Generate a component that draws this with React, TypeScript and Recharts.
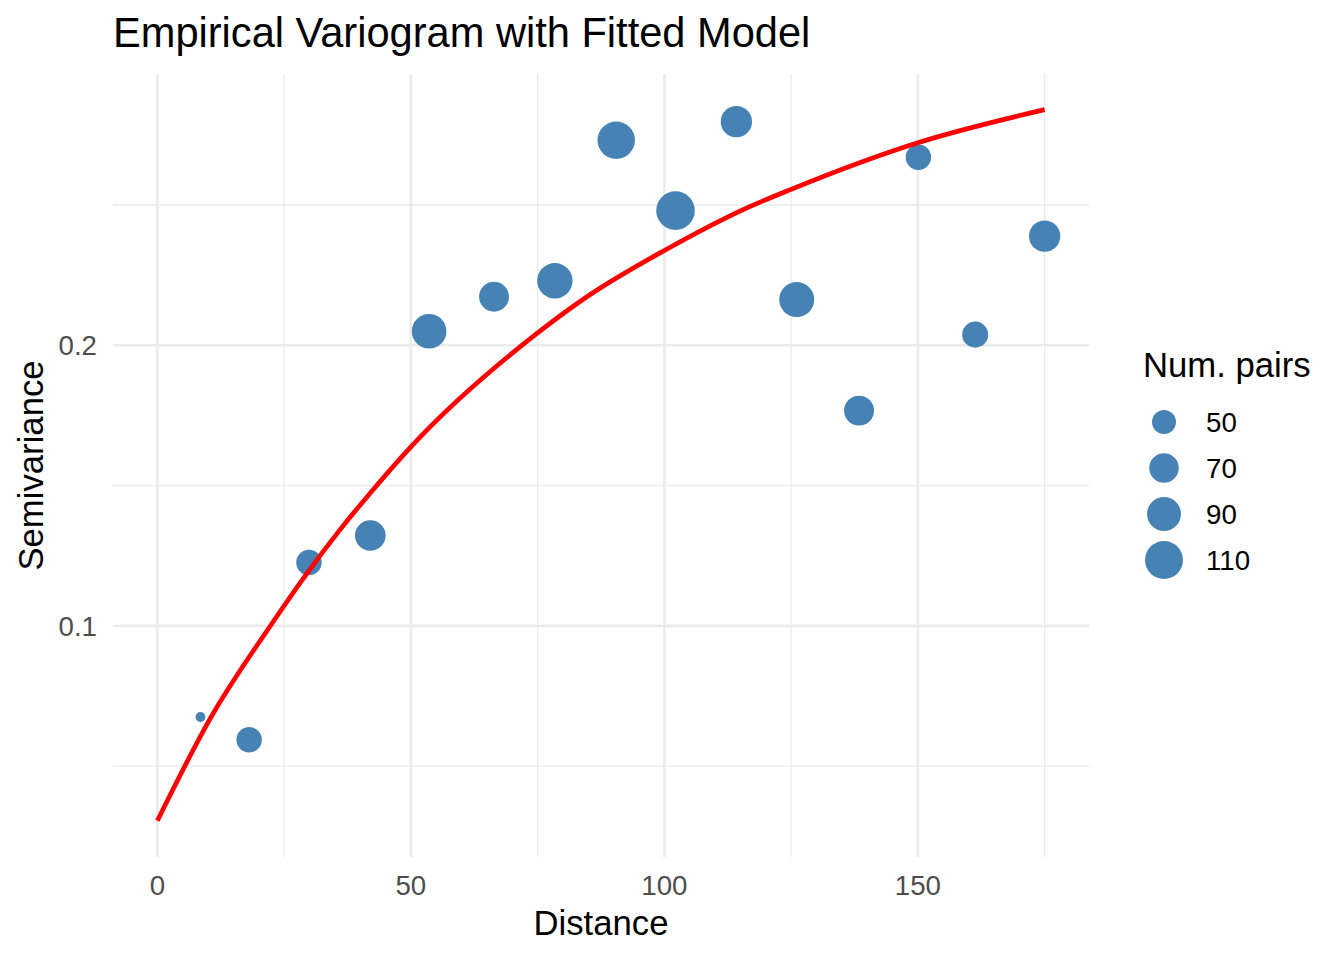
import {
  CartesianGrid,
  ComposedChart,
  Legend,
  Line,
  Scatter,
  XAxis,
  YAxis,
  ZAxis
} from "recharts";

// empirical variogram bins
const binDistance = [8.5, 18.1, 29.9, 42.0, 53.6, 66.4, 78.4, 90.5, 102.2, 114.2, 126.1, 138.4, 150.1, 161.3, 175.0];
const binGamma = [0.0675, 0.0594, 0.1226, 0.1322, 0.205, 0.2173, 0.223, 0.2731, 0.248, 0.2797, 0.2163, 0.1767, 0.267, 0.2038, 0.2389];
const binPairs = [17, 55, 55, 75, 93, 72, 97, 107, 113, 78, 95, 72, 55, 57, 78];

// fitted model
const modelDistance = [0, 10.5, 22.4, 28.9, 36.0, 42.3, 50, 75, 85.3, 100, 116.3, 125, 150, 175];
const modelGamma = [0.0305, 0.0672, 0.1003, 0.1172, 0.1342, 0.148, 0.1638, 0.2044, 0.218, 0.2338, 0.249, 0.2556, 0.2722, 0.284];

const xTicks = [0, 50, 100, 150];
const xMinor = [25, 75, 125, 175];
const yTicks = [0.1, 0.2];
const yMinor = [0.05, 0.15, 0.25];
const legendPairs = [50, 70, 90, 110];

const points = binDistance.map((x, i) => ({ x, y: binGamma[i], n: binPairs[i] }));
const model = modelDistance.map((x, i) => ({ x, y: modelGamma[i] }));

const FONT = "'Liberation Sans', Arial, Helvetica, sans-serif";
const BLUE = "#4682B4";
const GRID = "#EBEBEB";
const Z_DOMAIN: [number, number] = [15, 120];
const Z_RANGE: [number, number] = [54, 1248];

function radiusFor(v: number) {
  const t = (v - Z_DOMAIN[0]) / (Z_DOMAIN[1] - Z_DOMAIN[0]);
  const area = Z_RANGE[0] + (Z_RANGE[1] - Z_RANGE[0]) * t;
  return Math.sqrt(area / Math.PI);
}

function PairsLegend() {
  return (
    <svg width={214} height={250} style={{ display: "block", overflow: "visible", fontFamily: FONT }}>
      <text x={13} y={37} fontSize={34.7} fill="#000">
        Num. pairs
      </text>
      {legendPairs.map((v, i) => {
        const cy = 82 + i * 46;
        return (
          <g key={v}>
            <circle cx={34} cy={cy} r={radiusFor(v)} fill={BLUE} />
            <text x={76} y={cy} dy="0.355em" fontSize={27.7} fill="#000">
              {v}
            </text>
          </g>
        );
      })}
    </svg>
  );
}

function YTitle(props: any) {
  const vb = props?.viewBox;
  const cy = vb && typeof vb.y === "number" ? vb.y + vb.height / 2 : 466;
  return (
    <text
      x={43}
      y={cy}
      transform={`rotate(-90 43 ${cy})`}
      textAnchor="middle"
      fontSize={34.7}
      fill="#000"
      fontFamily={FONT}
    >
      Semivariance
    </text>
  );
}

export default function App() {
  return (
    <div style={{ position: "absolute", left: 0, top: 0, width: 1344, height: 960, background: "#fff", fontFamily: FONT }}>
      <div
        style={{
          position: "absolute",
          left: 113,
          top: 12,
          fontSize: 41.6,
          lineHeight: 1,
          color: "#000",
          whiteSpace: "nowrap"
        }}
      >
        Empirical Variogram with Fitted Model
      </div>
      <ComposedChart
        width={1344}
        height={960}
        margin={{ top: 74, right: 255, bottom: 63, left: 43 }}
        style={{ fontFamily: FONT }}
      >
        <CartesianGrid
          stroke={GRID}
          strokeWidth={1.3}
          verticalValues={xMinor}
          horizontalValues={yMinor}
        />
        <CartesianGrid
          stroke={GRID}
          strokeWidth={2.6}
          verticalValues={xTicks}
          horizontalValues={yTicks}
        />
        <XAxis
          type="number"
          dataKey="x"
          domain={[-8.75, 183.75]}
          allowDataOverflow
          ticks={xTicks}
          axisLine={false}
          tickLine={false}
          tickMargin={12}
          height={40}
          tick={{ fill: "#4D4D4D", fontSize: 27.7 }}
          label={{ value: "Distance", position: "bottom", offset: 13, fill: "#000", fontSize: 34.7 }}
        />
        <YAxis
          type="number"
          dataKey="y"
          domain={[0.0176, 0.2967]}
          allowDataOverflow
          ticks={yTicks}
          axisLine={false}
          tickLine={false}
          tickMargin={10}
          width={70}
          tick={{ fill: "#4D4D4D", fontSize: 27.7 }}
          label={YTitle}
        />
        <ZAxis type="number" dataKey="n" domain={Z_DOMAIN} range={Z_RANGE} />
        <Scatter data={points} fill={BLUE} isAnimationActive={false} />
        <Line
          data={model}
          dataKey="y"
          type="monotone"
          stroke="#FF0000"
          strokeWidth={4.7}
          dot={false}
          activeDot={false}
          isAnimationActive={false}
          zIndex={700}
        />
        <Legend
          layout="vertical"
          align="center"
          verticalAlign="middle"
          wrapperStyle={{ left: 1130, top: 340, width: 214, height: 250 }}
          content={() => <PairsLegend />}
        />
      </ComposedChart>
    </div>
  );
}
